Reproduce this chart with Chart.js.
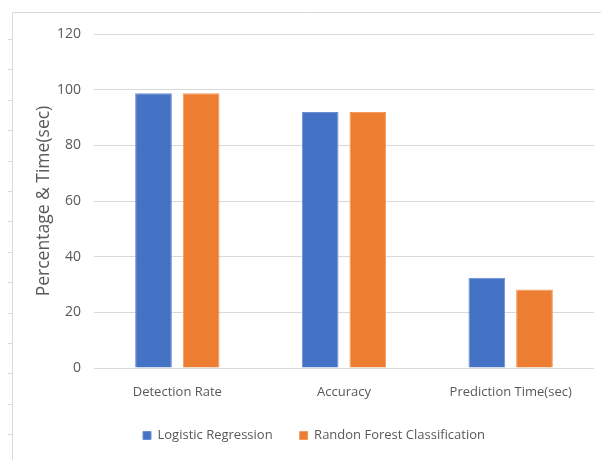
<!DOCTYPE html>
<html>
<head>
<meta charset="utf-8">
<script src="https://cdn.jsdelivr.net/npm/chart.js@4"></script>
<style>
  html, body { margin: 0; padding: 0; background: #ffffff; }
  #wrap { position: relative; width: 601px; height: 460px; }
</style>
</head>
<body>
<div id="wrap"><canvas id="chart" width="601" height="460"></canvas></div>
<script>
// Categories and series values
const categories = ['Detection Rate', 'Accuracy', 'Prediction Time(sec)'];
const logisticRegression = [98.7, 92.0, 32.4];
const randomForest = [98.7, 92.0, 28.2];
const seriesNames = ['Logistic Regression', 'Randon Forest Classification'];
const yTicks = [0, 20, 40, 60, 80, 100, 120];

const FONT = "'Open Sans', 'Liberation Sans', sans-serif";
const TEXT = '#595959';

// Thin sheet frame with small ruler marks along the left edge
const framePlugin = {
  id: 'frame',
  beforeDraw(chart) {
    const ctx = chart.ctx;
    ctx.save();
    ctx.fillStyle = '#ffffff';
    ctx.fillRect(0, 0, chart.width, chart.height);
    ctx.strokeStyle = '#d9d9d9';
    ctx.lineWidth = 1;
    ctx.beginPath();
    ctx.moveTo(12.5, chart.height);
    ctx.lineTo(12.5, 12.5);
    ctx.lineTo(chart.width, 12.5);
    ctx.stroke();
    ctx.beginPath();
    for (let y = 39; y < chart.height; y += 30.4) {
      ctx.moveTo(8, Math.round(y) + 0.5);
      ctx.lineTo(12, Math.round(y) + 0.5);
    }
    ctx.stroke();
    ctx.restore();
  }
};

new Chart(document.getElementById('chart'), {
  type: 'bar',
  data: {
    labels: categories,
    datasets: [
      { label: seriesNames[0], data: logisticRegression, backgroundColor: '#4472C4', borderColor: '#6a8fd2', borderWidth: 1 },
      { label: seriesNames[1], data: randomForest, backgroundColor: '#ED7D31', borderColor: '#f29a5f', borderWidth: 1 }
    ]
  },
  options: {
    responsive: false,
    animation: false,
    devicePixelRatio: 1,
    layout: { padding: { top: 34, right: 7, left: 34, bottom: 8 } },
    datasets: { bar: { categoryPercentage: 0.572, barPercentage: 0.77 } },
    scales: {
      x: {
        grid: { display: false, drawTicks: false },
        border: { display: false },
        ticks: { color: TEXT, font: { family: FONT, size: 13 }, padding: 16, maxRotation: 0 },
        afterFit(scale) { scale.height = 34; }
      },
      y: {
        min: 0,
        max: 120,
        afterBuildTicks(scale) { scale.ticks = yTicks.map(v => ({ value: v })); },
        grid: { color: '#d9d9d9', lineWidth: 1, drawTicks: false },
        border: { display: false },
        ticks: { color: TEXT, font: { family: FONT, size: 14 }, padding: 13 },
        title: {
          display: true,
          text: 'Percentage & Time(sec)',
          color: TEXT,
          font: { family: FONT, size: 17.5 },
          padding: { top: 0, bottom: 0 }
        },
        afterFit(scale) { scale.width = 60; }
      }
    },
    plugins: {
      legend: {
        position: 'bottom',
        labels: {
          color: TEXT,
          font: { family: FONT, size: 13 },
          boxWidth: 8,
          boxHeight: 8,
          padding: 27,
          useBorderRadius: false
        }
      },
      tooltip: { enabled: false }
    }
  },
  plugins: [framePlugin]
});
</script>
</body>
</html>
